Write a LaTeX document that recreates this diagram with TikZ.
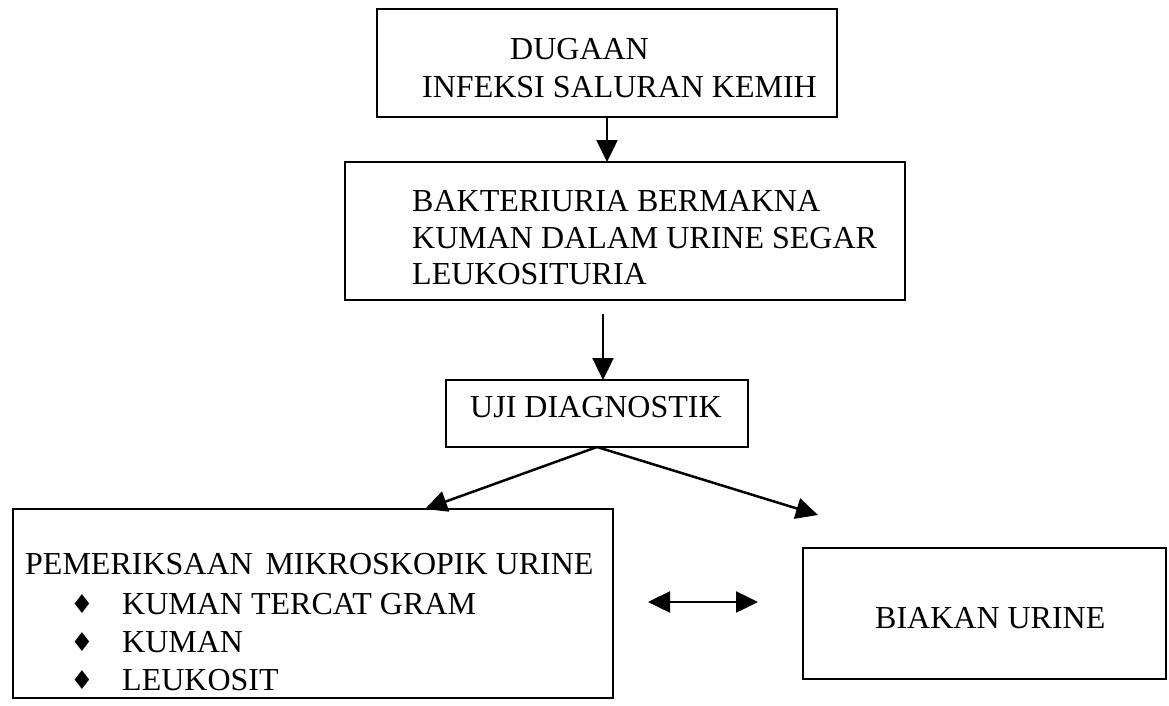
\documentclass[tikz,border=0pt]{standalone}
\usepackage{fontspec}
\setmainfont{Liberation Serif}
\newfontfamily\symfont{DejaVu Sans}
\usetikzlibrary{arrows.meta}
\tikzset{
  box/.style={draw, line width=2pt, inner sep=0pt, outer sep=0pt, anchor=north west},
  txt/.style={inner sep=0pt, anchor=base west, font=\fontsize{32}{36}\selectfont},
  bul/.style={inner sep=0pt, anchor=base, font=\symfont\fontsize{26}{28}\selectfont},
  arr/.style={line width=2.5pt, -{Triangle[length=22pt,width=21pt]}},
  darr/.style={line width=2.5pt, {Triangle[length=22pt,width=21pt]}-{Triangle[length=22pt,width=21pt]}}
}
\begin{document}
\begin{tikzpicture}[x=1pt,y=-1pt]
\useasboundingbox (0,0) rectangle (1169,706);
% boxes
\node[box, minimum width=460pt, minimum height=108pt] (b1) at (377,9) {};
\node[box, minimum width=560pt, minimum height=138pt] (b2) at (345,162) {};
\node[box, minimum width=302pt, minimum height=67pt] (uji) at (446,380) {};
\node[box, minimum width=600pt, minimum height=189pt] (mik) at (13,509) {};
\node[box, minimum width=363pt, minimum height=131pt] (bia) at (803,548) {};
% texts
\node[txt] (t1) at (510,60) {DUGAAN};
\node[txt] (t2) at (422,98) {INFEKSI SALURAN KEMIH};
\node[txt] (t3) at (412,211) {BAKTERIURIA BERMAKNA};
\node[txt] (t4) at (412,248) {KUMAN DALAM URINE SEGAR};
\node[txt] (t5) at (412,284) {LEUKOSITURIA};
\node[txt] (t6) at (470,417) {UJI DIAGNOSTIK};
\node[txt] (t7) at (25,574) {PEMERIKSAAN\hspace{0.15em} MIKROSKOPIK URINE};
\node[bul] (d1) at (82,613) {♦};
\node[bul] (d2) at (82,651) {♦};
\node[bul] (d3) at (82,689) {♦};
\node[txt] (t8) at (122,614) {KUMAN TERCAT GRAM};
\node[txt] (t9) at (122,652) {KUMAN};
\node[txt] (t10) at (122,690) {LEUKOSIT};
\node[txt] (t11) at (875,628) {BIAKAN URINE};
% connector coordinates
\coordinate (a2) at (603,314);
\coordinate (lt) at (425,509);
\coordinate (rt) at (818,515);
\coordinate (dl) at (648,602);
\coordinate (dr) at (758,602);
% connectors
\draw[arr] (b1.south) -- (b1.south |- b2.north);
\draw[arr] (a2) -- (a2 |- uji.north);
\draw[arr] (uji.south) -- (lt);
\draw[arr] (uji.south) -- (rt);
\draw[darr] (dl) -- (dr);
\end{tikzpicture}
\end{document}
